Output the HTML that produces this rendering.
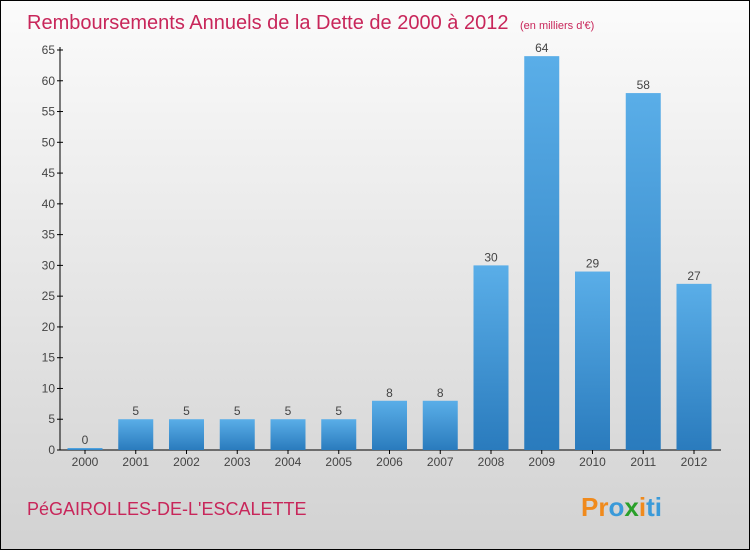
<!DOCTYPE html>
<html><head><meta charset="utf-8"><style>
html,body{margin:0;padding:0}
body{width:750px;height:550px;overflow:hidden;font-family:"Liberation Sans",sans-serif}
#wrap{position:absolute;left:0;top:0;width:748px;height:548px;border:1px solid #000;background:linear-gradient(#fbfbfb,#d2d2d2)}
</style></head><body>
<div id="wrap">
<svg id="chart" width="748" height="548">
<defs><linearGradient id="bg" x1="0" y1="0" x2="0" y2="1"><stop offset="0" stop-color="#5aaee8"/><stop offset="1" stop-color="#2a7bbd"/></linearGradient></defs>
<text x="26" y="28" font-size="20" fill="#c8265a">Remboursements Annuels de la Dette de 2000 à 2012 <tspan font-size="11" dx="6">(en milliers d'€)</tspan></text>
<text x="26" y="514" font-size="18" fill="#c8265a">PéGAIROLLES-DE-L'ESCALETTE</text>
<text x="580" y="515" font-size="26" font-weight="bold" fill="#f08a1c">Pr<tspan fill="#3a9ad9">o</tspan><tspan fill="#2aa02a">x</tspan><tspan fill="#f08a1c">i</tspan><tspan fill="#3a9ad9">ti</tspan></text>
<g id="g"></g>
</svg>
</div>
<script>
const categories=["2000","2001","2002","2003","2004","2005","2006","2007","2008","2009","2010","2011","2012"];
const values=[0,5,5,5,5,5,8,8,30,64,29,58,27];
const yTicks=[0,5,10,15,20,25,30,35,40,45,50,55,60,65];
const NS="http://www.w3.org/2000/svg";
const g=document.getElementById('g');
const x0=59,base=449,yMax=65,yTop=49;
const y=v=>base-(base-yTop)*v/yMax;
const step=50.75,cx=i=>84+i*step,bw=35;
function el(t,a,txt){const e=document.createElementNS(NS,t);for(const k in a)e.setAttribute(k,a[k]);if(txt!==undefined)e.textContent=txt;g.appendChild(e);return e;}
let ax=el('line',{x1:x0,y1:yTop-3,x2:x0,y2:base,stroke:'#000'});


let bx=el('line',{x1:x0,y1:base,x2:720,y2:base,stroke:'#000'});


yTicks.forEach(t=>{
 const tk=el('line',{x1:x0-3,y1:y(t),x2:x0+3,y2:y(t),stroke:'#000'});
 
 
 const l=el('text',{x:x0-5,y:y(t)+4,'font-size':12,fill:'#444','text-anchor':'end'},t);
 
 
});
categories.forEach((c,i)=>{
 const v=values[i],h=Math.max(base-y(v),2);
 const r=el('rect',{x:cx(i)-bw/2,y:base-h,width:bw,height:h,fill:'url(#bg)'});
 
 
 const vl=el('text',{x:cx(i),y:base-h-4,'font-size':12,fill:'#444','text-anchor':'middle'},v);
 
 
 const tk=el('line',{x1:cx(i),y1:base,x2:cx(i),y2:base+4,stroke:'#000'});
 
 
 const xl=el('text',{x:cx(i),y:base+16,'font-size':12,fill:'#444','text-anchor':'middle'},c);
 
 
});
</script>
</body></html>
